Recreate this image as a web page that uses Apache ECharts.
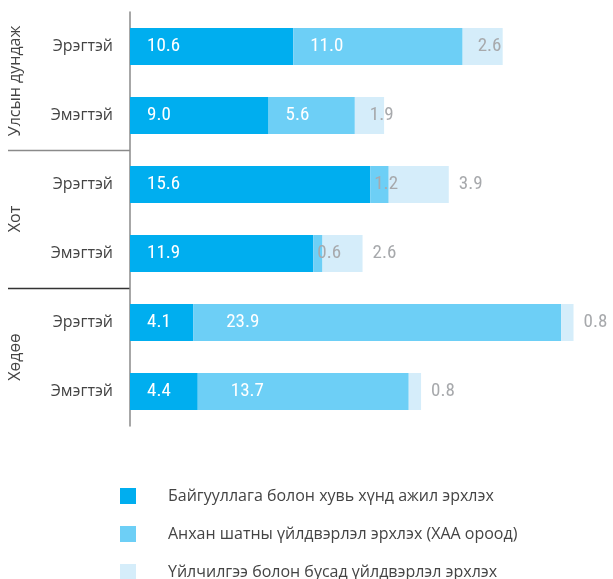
<!DOCTYPE html>
<html><head><meta charset="utf-8">
<script src="https://cdn.jsdelivr.net/npm/echarts@6/dist/echarts.min.js"></script>
<style>html,body{margin:0;padding:0;background:#fff}#c{width:613px;height:579px}</style>
</head><body><div id="c"></div>
<script>
const categories = ['Эрэгтэй','Эмэгтэй','Эрэгтэй','Эмэгтэй','Эрэгтэй','Эмэгтэй'];
const groups = ['Улсын дундаж','Хот','Хөдөө'];
const seriesNames = ['Байгууллага болон хувь хүнд ажил эрхлэх','Анхан шатны үйлдвэрлэл эрхлэх (ХАА ороод)','Үйлчилгээ болон бусад үйлдвэрлэл эрхлэх'];
const employed = [10.6, 9.0, 15.6, 11.9, 4.1, 4.4];
const primary = [11.0, 5.6, 1.2, 0.6, 23.9, 13.7];
const services = [2.6, 1.9, 3.9, 2.6, 0.8, 0.8];

const colors = ['#00AEEF','#6DCFF6','#D5EDFA'];
const grayLbl = '#A7A9AC';
const numLabel = {fontSize:19, fontFamily:"'Roboto Condensed', sans-serif"};
const fmt = p => Number(p.value).toFixed(1);

const chart = echarts.init(document.getElementById('c'), null, {renderer:'canvas'});
const option = {
  animation:false,
  grid:{left:130, right:21, top:12, height:414},
  xAxis:{type:'value', min:0, max:30, show:false},
  yAxis:{type:'category', inverse:true, data:categories,
    axisLine:{show:true, lineStyle:{color:'#8a8a8a', width:1.5}},
    axisTick:{show:false},
    axisLabel:{color:'#444', fontSize:16, fontFamily:"'Open Sans',sans-serif", margin:17}},
  legend:{orient:'vertical', left:115, top:483, height:140, itemWidth:16, itemHeight:16, itemGap:22,
    icon:'rect', textStyle:{color:'#444', fontSize:16, fontFamily:"'Open Sans',sans-serif", padding:[0,0,0,27]},
    data:seriesNames},
  series:[
    {name:seriesNames[0], type:'bar', stack:'a', barWidth:37, itemStyle:{color:colors[0]},
     label:Object.assign({show:true, position:'insideLeft', distance:17, color:'#fff', formatter:fmt}, numLabel),
     data:employed},
    {name:seriesNames[1], type:'bar', stack:'a', barWidth:37, itemStyle:{color:colors[1]},
     label:Object.assign({show:true, position:'insideLeft', distance:17, color:'#fff', formatter:fmt}, numLabel),
     data:primary.map(v => v < 2 ? {value:v, label:{color:grayLbl, distance:4}} : (v > 13 ? {value:v, label:{distance:33}} : v))},
    {name:seriesNames[2], type:'bar', stack:'a', barWidth:37, itemStyle:{color:colors[2]},
     label:Object.assign({show:true, position:'right', distance:10, color:grayLbl, formatter:fmt}, numLabel),
     data:services.map((v,i) => i < 2 ? {value:v, label:{position:'insideLeft', distance:15}} : v)}
  ]
};
chart.setOption(option);

const yPix = i => chart.convertToPixel({yAxisIndex:0}, i);
const gfx = [];
[[1,2,'#8a8a8a'],[3,4,'#333']].forEach(([a,b,col]) => {
  const y = Math.round((yPix(a)+yPix(b))/2) + 0.5;
  gfx.push({type:'line', shape:{x1:8, y1:y, x2:130, y2:y}, style:{stroke:col, lineWidth:1.5}});
});
groups.forEach((g,k) => {
  const y = (yPix(2*k)+yPix(2*k+1))/2;
  gfx.push({type:'text', x:15, y:y, rotation:Math.PI/2,
    style:{text:g, fill:'#444', font:"16px 'Open Sans', sans-serif", align:'center', verticalAlign:'middle'}});
});
chart.setOption({graphic:gfx});
</script></body></html>
